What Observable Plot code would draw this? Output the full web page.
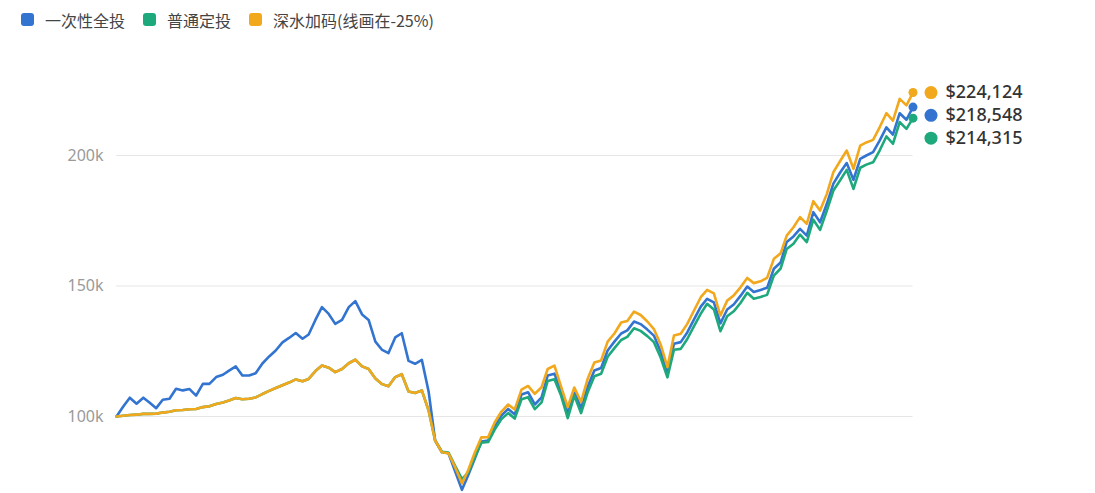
<!DOCTYPE html>
<html>
<head>
<meta charset="utf-8">
<script src="https://cdn.jsdelivr.net/npm/d3@7"></script>
<script src="https://cdn.jsdelivr.net/npm/@observablehq/plot@0.6"></script>
<style>
  html, body { margin: 0; padding: 0; background: #fff; overflow: hidden; }
  #legend { position: absolute; left: 0; top: 0; height: 39px; display: flex; align-items: center; padding-left: 21px;
            font-family: "Noto Sans CJK SC", "Noto Sans", sans-serif; font-size: 16px; color: #444; }
  #legend .item { display: flex; align-items: center; margin-right: 18px; }
  #legend .sw { width: 13px; height: 13px; border-radius: 3px; margin-right: 11px; }
  #chart { position: absolute; left: 0; top: 40px; }
  #chart svg [aria-label="y-axis tick label"] text { fill: #9a9a9a; }
</style>
</head>
<body>
<div id="legend"></div>
<div id="chart"></div>
<script>
// ---- data (values in thousands of dollars, monthly, Oct 2004 – Oct 2014) ----
const seriesNames = ["一次性全投", "普通定投", "深水加码(线画在-25%)"];
const seriesColors = ["#3274d0", "#1ea97c", "#f2a81d"];
const startMonth = "2004-10-01";
const endMonth = "2014-11-01";

const lumpSum = [
  100.0, 103.8, 107.2, 104.9, 107.2, 105.4, 103.2, 106.4, 106.8, 110.6,
  110.0, 110.5, 108.0, 112.5, 112.5, 115.1, 116.0, 117.6, 119.2, 115.7,
  115.7, 116.6, 120.3, 123.0, 125.3, 128.4, 130.1, 132.0, 129.8, 131.4,
  137.0, 141.9, 139.3, 135.5, 137.0, 141.9, 144.2, 139.1, 137.0, 128.7,
  125.5, 124.3, 130.3, 131.9, 121.3, 120.2, 121.7, 109.6, 90.8, 86.3,
  85.9, 78.9, 71.9, 77.4, 83.9, 90.4, 90.8, 96.2, 100.4, 102.9,
  100.8, 108.4, 109.3, 104.6, 107.3, 115.7, 116.4, 110.0, 101.1, 110.0,
  103.1, 111.5, 117.6, 118.6, 125.3, 128.7, 131.8, 133.0, 136.4, 135.4,
  133.3, 131.0, 124.9, 116.6, 127.9, 128.5, 132.2, 137.2, 142.1, 145.1,
  143.7, 135.7, 141.0, 142.9, 146.2, 149.8, 147.7, 148.5, 149.3, 156.6,
  159.0, 166.9, 169.0, 171.9, 169.3, 178.3, 174.4, 181.5, 189.2, 193.5,
  197.1, 190.7, 198.7, 200.0, 201.3, 205.7, 210.8, 208.0, 216.2, 213.7,
  218.548
];
const regularDca = [
  100.0, 100.3, 100.6, 100.7, 101.0, 101.0, 101.1, 101.5, 101.8, 102.4,
  102.5, 102.8, 102.9, 103.6, 103.9, 104.8, 105.4, 106.1, 107.1, 106.6,
  106.8, 107.3, 108.6, 109.8, 110.9, 112.0, 113.0, 114.2, 113.5, 114.4,
  117.4, 119.5, 118.7, 117.0, 118.2, 120.4, 121.8, 119.2, 118.2, 114.6,
  112.4, 111.6, 115.1, 116.2, 109.6, 109.0, 110.0, 102.3, 90.8, 86.5,
  86.2, 81.0, 76.0, 78.5, 84.5, 90.0, 90.2, 95.0, 99.0, 101.3,
  99.2, 106.6, 107.4, 102.8, 105.4, 113.6, 114.3, 108.1, 99.4, 108.0,
  101.3, 109.4, 115.4, 116.4, 122.9, 126.2, 129.3, 130.5, 133.8, 132.8,
  130.8, 128.5, 122.6, 115.0, 125.6, 125.9, 129.7, 134.6, 139.4, 143.2,
  141.0, 132.7, 138.4, 140.3, 143.5, 147.4, 145.1, 145.8, 146.6, 154.0,
  156.7, 164.2, 166.2, 169.7, 166.8, 175.4, 171.5, 178.9, 186.6, 190.5,
  194.5, 187.2, 195.3, 196.5, 197.4, 201.9, 207.3, 204.5, 212.8, 210.2,
  214.315
];
const deepWater = [
  100.0, 100.3, 100.6, 100.7, 101.0, 101.0, 101.1, 101.5, 101.8, 102.4,
  102.5, 102.8, 102.9, 103.6, 103.9, 104.8, 105.4, 106.1, 107.1, 106.6,
  106.8, 107.3, 108.6, 109.8, 110.9, 112.0, 113.0, 114.2, 113.5, 114.4,
  117.4, 119.5, 118.7, 117.0, 118.2, 120.4, 121.8, 119.2, 118.2, 114.6,
  112.4, 111.6, 115.1, 116.2, 109.6, 109.0, 110.0, 102.3, 90.8, 86.3,
  85.9, 80.5, 74.4, 79.3, 86.2, 92.0, 92.1, 97.7, 101.9, 104.6,
  102.7, 110.3, 111.7, 108.7, 111.2, 118.2, 119.5, 111.5, 103.6, 111.1,
  105.6, 114.6, 120.7, 121.5, 128.7, 131.8, 136.0, 136.6, 140.2, 138.9,
  136.4, 133.5, 127.6, 118.9, 131.0, 131.7, 135.5, 140.6, 145.7, 148.5,
  147.2, 138.7, 144.4, 146.4, 149.5, 153.1, 151.1, 151.8, 153.1, 160.4,
  162.5, 169.3, 172.5, 176.4, 173.8, 182.5, 178.9, 185.3, 193.6, 197.9,
  201.9, 194.9, 203.8, 205.0, 206.0, 210.8, 216.2, 213.4, 221.7, 219.2,
  224.124
];
const gridTicks = [100000, 150000, 200000];
const yDomain = [70498, 244061];

// ---- build table ----
const months = d3.utcMonth.range(new Date(startMonth), new Date(endMonth));
const allSeries = [lumpSum, regularDca, deepWater];
const rows = [];
allSeries.forEach((vals, si) => {
  vals.forEach((v, i) => rows.push({date: months[i], series: seriesNames[si], value: v * 1000}));
});

// ---- legend ----
const legend = document.getElementById("legend");
seriesNames.forEach((n, i) => {
  const it = document.createElement("div");
  it.className = "item";
  it.innerHTML = `<span class="sw" style="background:${seriesColors[i]}"></span><span>${n}</span>`;
  legend.appendChild(it);
});

// ---- end labels with collision spacing ----
const W = 1095, H = 453;
const yRange = [H, 0];
const yScale = Plot.scale({y: {domain: yDomain, range: yRange}});
const ends = allSeries.map((vals, si) => ({
  date: months[vals.length - 1], series: seriesNames[si], value: vals[vals.length - 1] * 1000, color: seriesColors[si]
})).sort((a, b) => b.value - a.value);
let prev = -Infinity;
for (const e of ends) {
  const py = yScale.apply(e.value);
  const ly = Math.max(py, prev + 22.8);
  prev = ly;
  e.dy = ly - py;
}
const fmt = d3.format("$,");
const labelMarks = ends.flatMap(e => [
  Plot.dot([e], {x: "date", y: "value", dx: 18, dy: e.dy, r: 6.5, fill: e.color}),
  Plot.text([e], {x: "date", y: "value", dx: 32.5, dy: e.dy, text: d => fmt(Math.round(d.value)),
    textAnchor: "start", fontSize: 18, fontWeight: 500, fill: "#333"})
]);

const chart = Plot.plot({
  width: W,
  height: H,
  marginLeft: 116,
  marginRight: 182.5,
  marginTop: 0,
  marginBottom: 0,
  style: {fontFamily: "'Noto Sans', 'Noto Sans CJK SC', sans-serif", background: "transparent", overflow: "visible"},
  x: {type: "utc", axis: null},
  y: {domain: yDomain, range: yRange, axis: null},
  color: {domain: seriesNames, range: seriesColors},
  marks: [
    Plot.ruleY(gridTicks, {stroke: "#e6e6e6", strokeWidth: 1}),
    Plot.axisY({ticks: gridTicks, tickFormat: d => `${d / 1000}k`, tickSize: 0, tickPadding: 13, fontSize: 16, label: null, color: "#9a9a9a"}),
    Plot.lineY(rows, {x: "date", y: "value", stroke: "series", strokeWidth: 2.6, strokeLinejoin: "round"}),
    Plot.dot(ends, {x: "date", y: "value", fill: "color", r: 4.5}),
    ...labelMarks
  ]
});
document.getElementById("chart").appendChild(chart);
</script>
</body>
</html>
